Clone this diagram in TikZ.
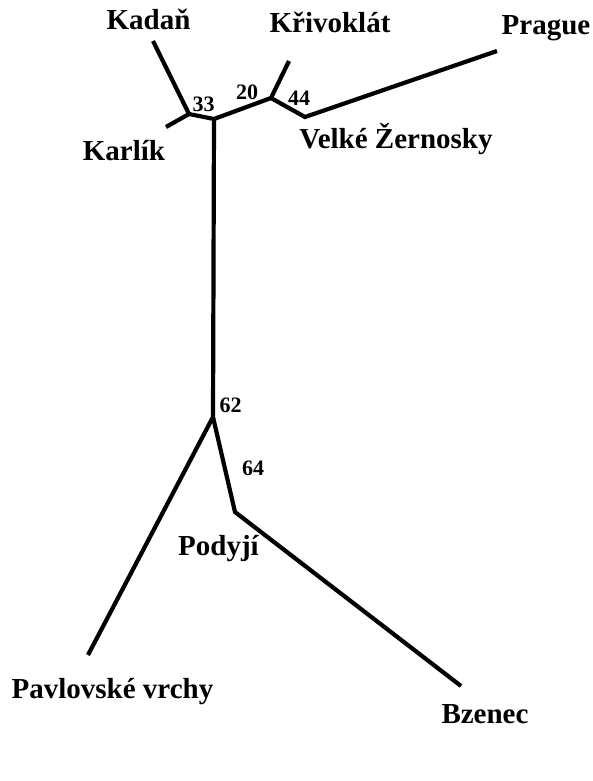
\documentclass[tikz,border=0pt]{standalone}
\usepackage{fontspec}
\setmainfont{Liberation Serif}
\begin{document}
\begin{tikzpicture}[x=1pt,y=-1pt,
  branch/.style={line width=4.2pt,line cap=butt,line join=miter},
  lbl/.style={font=\fontsize{29}{32}\selectfont\bfseries,inner sep=0pt,anchor=base},
  num/.style={font=\fontsize{22}{25}\selectfont\bfseries,inner sep=0pt,anchor=base}]
\useasboundingbox (0,0) rectangle (592,781);
% junctions and tips
\coordinate (kadan) at (153,41);
\coordinate (jA) at (189,114);
\coordinate (karlik) at (166,127);
\coordinate (jB) at (214,119);
\coordinate (jC) at (271,98);
\coordinate (krivo) at (289,61);
\coordinate (jD) at (305,117);
\coordinate (prague) at (497,51);
\coordinate (jE) at (213,417);
\coordinate (jF) at (235,512);
\coordinate (pavl) at (88,655);
\coordinate (bzen) at (461,686);
% branches
\draw[branch] (kadan) -- (jA) -- (karlik);
\draw[branch] (jA) -- (jB) -- (jC) -- (krivo);
\draw[branch] (jC) -- (jD) -- (prague);
\draw[branch] (jB) -- (jE) -- (pavl);
\draw[branch] (jE) -- (jF) -- (bzen);
% labels
\node[lbl] (tKadan) at (148.5,30) {Kadaň};
\node[lbl] (tKrivo) at (330,33) {Křivoklát};
\node[lbl] (tPrague) at (546,35) {Prague};
\node[lbl] (tKarlik) at (124,160) {Karlík};
\node[lbl] (tVelke) at (396,148) {Velké Žernosky};
\node[lbl] (tPodyji) at (218.5,555) {Podyjí};
\node[lbl] (tPavl) at (112.5,698) {Pavlovské vrchy};
\node[lbl] (tBzen) at (485,723) {Bzenec};
\node[num] (n33) at (203.5,112) {33};
\node[num] (n20) at (247,100) {20};
\node[num] (n44) at (299,106) {44};
\node[num] (n62) at (230.5,412) {62};
\node[num] (n64) at (253,475) {64};
\end{tikzpicture}
\end{document}
